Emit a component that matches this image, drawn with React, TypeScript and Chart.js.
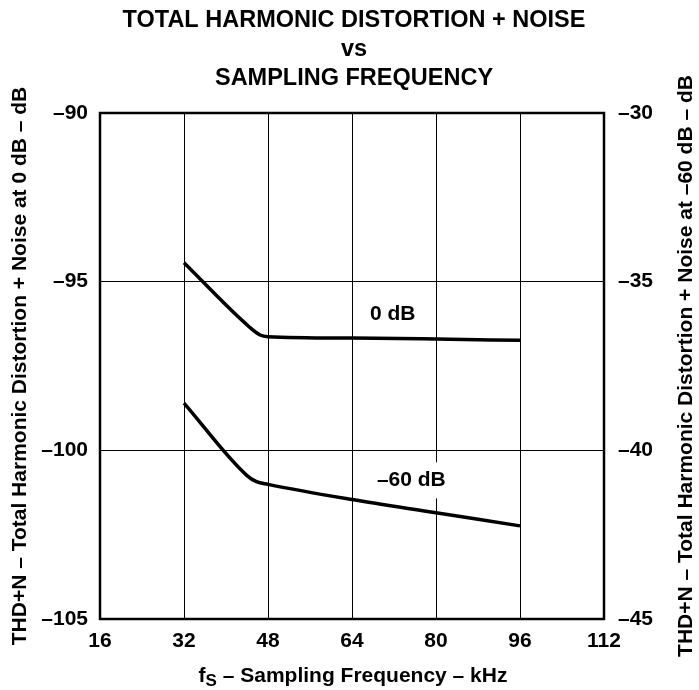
import React, { useEffect, useRef } from "react";
import { Chart, registerables } from "chart.js";

Chart.register(...registerables);

const titleLines = ["TOTAL HARMONIC DISTORTION + NOISE", "vs", "SAMPLING FREQUENCY"];
const xTicks = [16, 32, 48, 64, 80, 96, 112];
const leftTicks = [-105, -100, -95, -90];
const rightTicks = [-45, -40, -35, -30];

const freq0dB = [32, 44.5, 46.5, 48, 64, 80, 96];
const thd0dB = [-94.44, -96.35, -96.58, -96.63, -96.67, -96.7, -96.74];

const freq60dB = [32, 44, 45.8, 48, 64, 80, 96];
const thd60dB = [-38.6, -40.75, -40.93, -41.01, -41.46, -41.85, -42.24];

const curveLabels = ["0 dB", "–60 dB"];
const curveLabelX = [71.75, 75.3];
const curveLabelY = [-95.97, -40.89];
const curveLabelAxis = ["y", "y2"];

const leftAxisTitle = "THD+N – Total Harmonic Distortion + Noise at 0 dB – dB";
const rightAxisTitle = "THD+N – Total Harmonic Distortion + Noise at –60 dB – dB";
const xTitleMain = "f";
const xTitleSub = "S";
const xTitleRest = " – Sampling Frequency – kHz";

const FONT = '"Liberation Sans", Arial, Helvetica, sans-serif';

const decorPlugin = {
  id: "decor",
  beforeDatasetsDraw(chart: any) {
    const ctx = chart.ctx;
    const xs = chart.scales.x;
    ctx.save();
    ctx.font = `bold 21px ${FONT}`;
    ctx.textAlign = "center";
    ctx.textBaseline = "middle";
    curveLabels.forEach((t, i) => {
      const ys = chart.scales[curveLabelAxis[i]];
      const px = xs.getPixelForValue(curveLabelX[i]);
      const py = ys.getPixelForValue(curveLabelY[i]);
      const w = ctx.measureText(t).width;
      ctx.fillStyle = "#ffffff";
      ctx.fillRect(px - w / 2 - 4, py - 18, w + 8, 36);
      ctx.fillStyle = "#000000";
      ctx.fillText(t, px, py);
    });
    ctx.restore();
  },
  afterDraw(chart: any) {
    const ctx = chart.ctx;
    const a = chart.chartArea;
    ctx.save();
    ctx.strokeStyle = "#000000";
    ctx.lineWidth = 2.5;
    ctx.strokeRect(a.left, a.top, a.right - a.left, a.bottom - a.top);

    const cx = (a.left + a.right) / 2 + 2;
    ctx.fillStyle = "#000000";
    ctx.textAlign = "center";
    ctx.textBaseline = "alphabetic";
    ctx.font = `bold 23.5px ${FONT}`;
    const baselines = [27, 56, 85];
    titleLines.forEach((t, i) => ctx.fillText(t, cx, baselines[i]));

    // x axis title with subscript
    ctx.font = `bold 21px ${FONT}`;
    const wMain = ctx.measureText(xTitleMain).width;
    const wRest = ctx.measureText(xTitleRest).width;
    ctx.font = `bold 17px ${FONT}`;
    const wSub = ctx.measureText(xTitleSub).width;
    const total = wMain + wSub + wRest;
    let x0 = (a.left + a.right) / 2 + 1 - total / 2;
    ctx.textAlign = "left";
    ctx.font = `bold 21px ${FONT}`;
    ctx.fillText(xTitleMain, x0, 682);
    x0 += wMain;
    ctx.font = `bold 17px ${FONT}`;
    ctx.fillText(xTitleSub, x0, 686);
    x0 += wSub;
    ctx.font = `bold 21px ${FONT}`;
    ctx.fillText(xTitleRest, x0, 682);

    // rotated axis titles
    const cy = (a.top + a.bottom) / 2;
    ctx.textAlign = "center";
    ctx.textBaseline = "middle";
    ctx.font = `bold 21px ${FONT}`;
    ctx.save();
    ctx.translate(20, cy);
    ctx.rotate(-Math.PI / 2);
    ctx.fillText(leftAxisTitle, 0, 0);
    ctx.restore();
    ctx.save();
    ctx.translate(686, cy);
    ctx.rotate(-Math.PI / 2);
    ctx.fillText(rightAxisTitle, 0, 0);
    ctx.restore();
    ctx.restore();
  },
};

export default function App() {
  const ref = useRef<HTMLCanvasElement | null>(null);

  useEffect(() => {
    if (!ref.current) return;
    const tickFont = { family: FONT, size: 21, weight: "bold" as const };
    const chart = new Chart(ref.current, {
      type: "line",
      data: {
        datasets: [
          {
            label: curveLabels[0],
            data: freq0dB.map((f, i) => ({ x: f, y: thd0dB[i] })),
            yAxisID: "y",
            borderColor: "#000000",
            borderWidth: 3.5,
            pointRadius: 0,
            fill: false,
            cubicInterpolationMode: "monotone",
          },
          {
            label: curveLabels[1],
            data: freq60dB.map((f, i) => ({ x: f, y: thd60dB[i] })),
            yAxisID: "y2",
            borderColor: "#000000",
            borderWidth: 3.5,
            pointRadius: 0,
            fill: false,
            cubicInterpolationMode: "monotone",
          },
        ],
      },
      plugins: [decorPlugin],
      options: {
        responsive: false,
        animation: false,
        devicePixelRatio: 1,
        layout: { padding: { top: 113, left: 0, right: 0, bottom: 0 } },
        plugins: {
          legend: { display: false },
          title: { display: false },
          tooltip: { enabled: false },
        },
        scales: {
          x: {
            type: "linear",
            min: xTicks[0],
            max: xTicks[xTicks.length - 1],
            afterBuildTicks: (s: any) => {
              s.ticks = xTicks.map((v) => ({ value: v }));
            },
            afterFit: (s: any) => {
              s.height = 71;
            },
            grid: { color: "#000000", lineWidth: 1, drawTicks: false },
            border: { display: false },
            ticks: { color: "#000000", font: tickFont, padding: 10, maxRotation: 0, autoSkip: false },
          },
          y: {
            type: "linear",
            position: "left",
            min: leftTicks[0],
            max: leftTicks[leftTicks.length - 1],
            afterBuildTicks: (s: any) => {
              s.ticks = leftTicks.map((v) => ({ value: v }));
            },
            afterFit: (s: any) => {
              s.width = 100;
            },
            grid: { color: "#000000", lineWidth: 1, drawTicks: false },
            border: { display: false },
            ticks: {
              color: "#000000",
              font: tickFont,
              padding: 12,
              callback: (v: any) => String(v).replace("-", "–"),
            },
          },
          y2: {
            type: "linear",
            position: "right",
            min: rightTicks[0],
            max: rightTicks[rightTicks.length - 1],
            afterBuildTicks: (s: any) => {
              s.ticks = rightTicks.map((v) => ({ value: v }));
            },
            afterFit: (s: any) => {
              s.width = 95;
            },
            grid: { display: false, drawTicks: false },
            border: { display: false },
            ticks: {
              color: "#000000",
              font: tickFont,
              padding: 14,
              callback: (v: any) => String(v).replace("-", "–"),
            },
          },
        },
      },
    });
    return () => chart.destroy();
  }, []);

  return (
    <div style={{ position: "absolute", left: 0, top: 0, width: 699, height: 690, background: "#fff" }}>
      <canvas ref={ref} width={699} height={690} style={{ width: 699, height: 690, display: "block" }} />
    </div>
  );
}
